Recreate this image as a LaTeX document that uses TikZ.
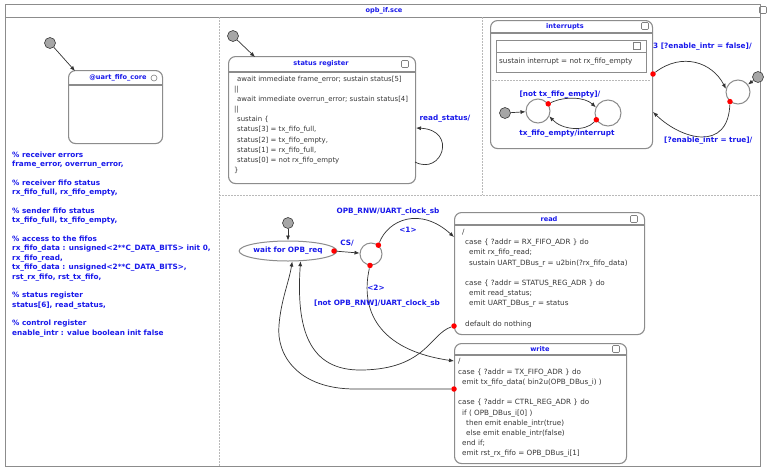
\documentclass[tikz,border=0pt]{standalone}
\usepackage{fontspec}
\setmainfont{DejaVu Sans}
\usetikzlibrary{arrows.meta,calc,shapes.geometric}
\definecolor{sblue}{RGB}{25,25,235}
\definecolor{frameg}{RGB}{140,140,140}
\definecolor{txtg}{RGB}{55,55,55}
\newcommand\mycode{\fontsize{7.2}{10.2}\selectfont}
\newcommand\mystat{\fontsize{6.95}{10.1}\selectfont}
\newcommand\myttl{\fontsize{6.6}{8}\selectfont\bfseries}
\newcommand\mydecl{\fontsize{7.3}{9.37}\selectfont\bfseries}
\newcommand\mylbl{\fontsize{7.3}{9}\selectfont\bfseries}
\begin{document}
\begin{tikzpicture}[x=1pt,y=-1pt,
  box/.style={draw=frameg, line width=1.1pt, rounded corners=7pt, anchor=north west, inner sep=0},
  ttl/.style={text=sblue, font=\myttl, inner sep=0},
  lbl/.style={text=sblue, font=\mylbl, inner sep=0},
  code/.style={text=txtg, font=\mycode, align=left, anchor=north west, inner sep=0},
  initst/.style={circle, fill=gray!70, draw=gray!45!black, line width=0.6pt, minimum size=11pt, inner sep=0},
  dot/.style={circle, fill=red, minimum size=5.5pt, inner sep=0},
  tr/.style={draw=gray!40!black, line width=0.7pt, -{Latex[length=5pt,width=4pt]}},
  divider/.style={draw=gray!55, line width=0.8pt, dash pattern=on 1.5pt off 1.5pt},
  simple/.style={circle, draw=frameg, line width=1pt, inner sep=0},
  icon/.style={draw=gray, line width=0.6pt, rounded corners=1pt, minimum width=7pt, minimum height=7pt, inner sep=0},
  bar/.style={draw=frameg, line width=1.1pt}
]
\fill[white] (0,0) rectangle (768,469);
\useasboundingbox (0,0) rectangle (768,469);

% outer frame
\draw[frameg, line width=1pt] (5,4) rectangle (760,466);
\draw[frameg, line width=1pt] (5,17) -- (760,17);
\node[ttl] (maintitle) at (384,10.5) {opb\_if.sce};
\node[icon] (mainicon) at (763,10) {};

% dividers
\draw[divider] (219,17) -- (219,466);
\draw[divider] (482,17) -- (482,195);
\draw[divider] (219,195) -- (760,195);

% ---------- left panel
\node[initst] (i0) at (50,43) {};
\node[box, minimum width=94pt, minimum height=73pt] (core) at (68,70) {};
\draw[bar] (68,85) -- (162,85);
\node[ttl] (coret) at (118,78) {@uart\_fifo\_core};
\draw[gray, line width=0.6pt] (154,78) circle (3);
\draw[tr] (i0) -- ($(core.north west)+(7,1)$);

\node[anchor=north west, align=left, text=sblue, font=\mydecl, inner sep=0] (decl) at (12,151.5) {%
\% receiver errors\\
frame\_error, overrun\_error,\\[9.37pt]
\% receiver fifo status\\
rx\_fifo\_full, rx\_fifo\_empty,\\[9.37pt]
\% sender fifo status\\
tx\_fifo\_full, tx\_fifo\_empty,\\[9.37pt]
\% access to the fifos\\
rx\_fifo\_data : unsigned<2**C\_DATA\_BITS> init 0,\\
rx\_fifo\_read,\\
tx\_fifo\_data : unsigned<2**C\_DATA\_BITS>,\\
rst\_rx\_fifo, rst\_tx\_fifo,\\[9.37pt]
\% status register\\
status[6], read\_status,\\[9.37pt]
\% control register\\
enable\_intr : value boolean init false};

% ---------- status register
\node[initst] (i1) at (233,36) {};
\node[box, minimum width=187pt, minimum height=127pt] (status) at (228,56) {};
\draw[bar] (228,72) -- (415,72);
\node[ttl] (statust) at (321,64) {status register};
\node[icon] (staticon) at (405,64) {};
\draw[tr] (i1) -- ($(status.north west)+(27,1)$);
\node[code, font=\mystat] (statcode) at (234,76) {%
\hspace{3pt}await immediate frame\_error; sustain status[5]\\
||\\
\hspace{3pt}await immediate overrun\_error; sustain status[4]\\
||\\
\hspace{3pt}sustain \{\\
\hspace{3pt}status[3] = tx\_fifo\_full,\\
\hspace{3pt}status[2] = tx\_fifo\_empty,\\
\hspace{3pt}status[1] = rx\_fifo\_full,\\
\hspace{3pt}status[0] = not rx\_fifo\_empty\\
\}};
\coordinate (s1) at (415,162);
\coordinate (s2) at (416,128);
\draw[tr] (s1) .. controls (442,176) and (458,130) .. (s2);
\node[lbl] (rsl) at (445,119) {read\_status/};

% ---------- interrupts
\node[box, minimum width=162pt, minimum height=128pt] (intr) at (490,20) {};
\draw[bar] (490,33) -- (652,33);
\node[ttl] (intrt) at (565,27) {interrupts};
\node[icon] (intricon) at (645,26) {};
\node[draw=frameg, line width=1pt, minimum width=150pt, minimum height=32pt, anchor=north west, inner sep=0] (inner) at (496,40) {};
\draw[frameg, line width=1pt] (496,52) -- (646,52);
\node[icon, rounded corners=0pt] (innericon) at (637,46) {};
\node[code, anchor=west] (innercode) at (499,62) {sustain interrupt = not rx\_fifo\_empty};
\draw[divider] (492,80) -- (650,80);

\node[initst] (i2) at (505,113) {};
\node[simple, minimum size=24pt] (A) at (538,111) {};
\node[simple, minimum size=26pt] (B) at (608,113) {};
\draw[tr] (i2) -- (A);
\node[dot] (d1) at (A.35) {};
\draw[tr] (d1) .. controls (565,96) and (585,97) .. (B.155);
\node[dot] (d2) at (B.210) {};
\draw[tr] (d2) .. controls (585,132) and (562,130) .. (A.-25);
\node[lbl] (l1) at (560,95) {[not tx\_fifo\_empty]/};
\node[lbl] (l2) at (567,134) {tx\_fifo\_empty/interrupt};

\node[simple, minimum size=24pt] (C) at (738,92) {};
\node[initst] (i3) at (758,77) {};
\draw[tr] (i3) -- (C);
\node[dot] (d3) at (653,74) {};
\draw[tr] (d3) .. controls (682,52) and (712,62) .. (C.165);
\node[dot] (d4) at (C.230) {};
\coordinate (intin) at (653,112);
\draw[tr] (d4) .. controls (728,152) and (682,140) .. (intin);
\node[lbl, anchor=west] (l3) at (653,47) {3 [?enable\_intr = false]/};
\node[lbl, anchor=west] (l4) at (664,141) {[?enable\_intr = true]/};

% ---------- OPB interface
\node[initst] (i4) at (288,223) {};
\node[ellipse, draw=frameg, line width=1pt, minimum width=84pt, minimum height=20pt, inner sep=0, text=sblue, font=\mydecl] (wait) at (288,251) {wait for OPB\_req};
\draw[tr] (i4) -- (wait);
\node[dot] (d5) at (334,251) {};
\node[simple, minimum size=22pt] (cond) at (371,254) {};
\draw[tr] (d5) -- (cond);
\node[lbl] (cs) at (347,243) {CS/};

\node[box, minimum width=190pt, minimum height=122pt] (read) at (454,212) {};
\draw[bar] (454,225) -- (644,225);
\node[ttl] (readt) at (549,219) {read};
\node[icon] (readicon) at (634,219) {};
\node[code] (readcode) at (462,229) {%
/\\
\hspace{3pt}case \{ ?addr = RX\_FIFO\_ADR \} do\\
\hspace{7pt}emit rx\_fifo\_read;\\
\hspace{7pt}sustain UART\_DBus\_r = u2bin(?rx\_fifo\_data)\\[10.2pt]
\hspace{3pt}case \{ ?addr = STATUS\_REG\_ADR \} do\\
\hspace{7pt}emit read\_status;\\
\hspace{7pt}emit UART\_DBus\_r = status\\[10.2pt]
\hspace{3pt}default do nothing};

\node[box, minimum width=172pt, minimum height=120pt] (write) at (454,343) {};
\draw[bar] (454,355) -- (626,355);
\node[ttl] (writet) at (540,349) {write};
\node[icon] (writeicon) at (616,349) {};
\node[code] (writecode) at (458,358.5) {%
/\\
case \{ ?addr = TX\_FIFO\_ADR \} do\\
\hspace{4pt}emit tx\_fifo\_data( bin2u(OPB\_DBus\_i) )\\[10.3pt]
case \{ ?addr = CTRL\_REG\_ADR \} do\\
\hspace{4pt}if ( OPB\_DBus\_i[0] )\\
\hspace{8pt}then emit enable\_intr(true)\\
\hspace{8pt}else emit enable\_intr(false)\\
\hspace{4pt}end if;\\
\hspace{4pt}emit rst\_rx\_fifo = OPB\_DBus\_i[1]};

\node[dot] (d6) at (cond.50) {};
\coordinate (rin) at (454,237);
\draw[tr] (d6) .. controls (388,220) and (420,206) .. (rin);
\node[lbl] (l5) at (388,212) {OPB\_RNW/UART\_clock\_sb};
\node[lbl] (l6) at (408,230) {<1>};

\node[dot] (d7) at (cond.-95) {};
\coordinate (win) at (454,361);
\draw[tr] (d7) .. controls (360,310) and (378,350) .. (win);
\node[lbl] (l7) at (376,288) {<2>};
\node[lbl] (l8) at (377,304) {[not OPB\_RNW]/UART\_clock\_sb};

\node[dot] (d8) at (454,326) {};
\draw[tr] (d8) .. controls (430,334) and (426,369) .. (362,370) .. controls (308,371) and (296,328) .. (wait.-39);
\node[dot] (d9) at (454,389) {};
\draw[tr] (d9) -- (355,389) .. controls (298,389) and (276,355) .. (279,325) .. controls (281,300) and (289,282) .. (wait.-68);

\end{tikzpicture}
\end{document}
